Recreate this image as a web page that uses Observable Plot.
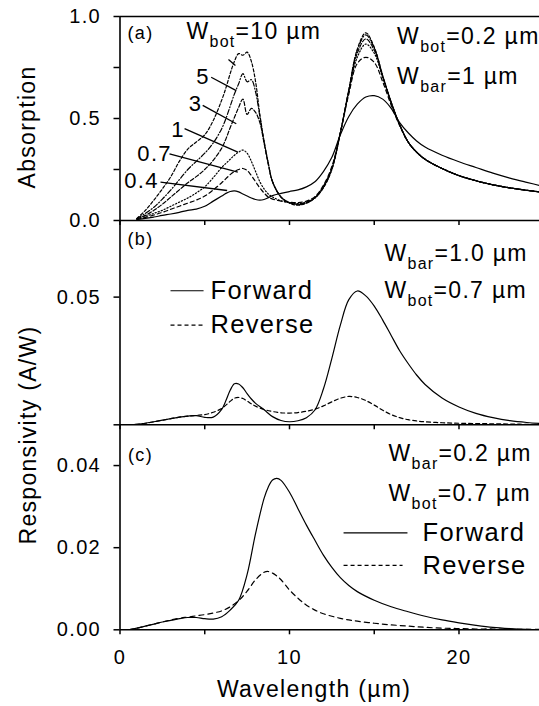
<!DOCTYPE html>
<html>
<head>
<meta charset="utf-8">
<script src="https://cdn.jsdelivr.net/npm/d3@7"></script>
<script src="https://cdn.jsdelivr.net/npm/@observablehq/plot@0.6"></script>
<style>
body { margin: 0; background: #fff; }
#chart { position: relative; width: 539px; height: 706px; overflow: hidden; background: #fff; }
</style>
</head>
<body>
<div id="chart"></div>
<script>
// ---------------- DATA ----------------
// Panel (a): absorption vs wavelength for several W_bot values
const wavelengthA = [1,1.5,2,2.5,3,3.5,4,4.5,5,5.5,6,6.25,6.5,6.75,7,7.25,7.5,7.75,8,8.25,8.5,8.75,9,9.5,10,10.5,11,11.5,12,12.5,13,13.5,14,14.5,15,15.5,16,16.5,17,17.5,18,19,20,21,22,23,24,25];
const absW10  = [0.01,0.05,0.10,0.155,0.215,0.29,0.35,0.385,0.42,0.49,0.59,0.65,0.72,0.78,0.818,0.81,0.825,0.78,0.68,0.52,0.39,0.28,0.19,0.115,0.085,0.075,0.085,0.11,0.16,0.25,0.43,0.64,0.84,0.92,0.85,0.71,0.58,0.47,0.385,0.335,0.30,0.255,0.22,0.195,0.175,0.16,0.148,0.138];
const absW5   = [0.01,0.035,0.065,0.105,0.15,0.20,0.25,0.29,0.33,0.38,0.45,0.50,0.56,0.62,0.67,0.72,0.68,0.69,0.63,0.51,0.385,0.28,0.19,0.115,0.087,0.078,0.087,0.11,0.162,0.252,0.43,0.64,0.835,0.91,0.845,0.71,0.58,0.47,0.385,0.335,0.30,0.255,0.22,0.195,0.175,0.16,0.148,0.138];
const absW3   = [0.008,0.025,0.05,0.08,0.115,0.15,0.185,0.215,0.25,0.295,0.355,0.40,0.455,0.505,0.555,0.595,0.52,0.55,0.53,0.48,0.38,0.275,0.19,0.115,0.088,0.08,0.088,0.112,0.165,0.255,0.43,0.635,0.82,0.89,0.835,0.705,0.578,0.47,0.385,0.335,0.30,0.255,0.22,0.195,0.175,0.16,0.148,0.138];
const absW1   = [0.007,0.02,0.035,0.05,0.07,0.09,0.11,0.135,0.165,0.21,0.26,0.28,0.30,0.32,0.335,0.345,0.33,0.29,0.24,0.19,0.155,0.13,0.115,0.097,0.088,0.083,0.09,0.113,0.168,0.258,0.43,0.63,0.80,0.865,0.82,0.70,0.575,0.468,0.385,0.335,0.30,0.255,0.22,0.195,0.175,0.16,0.148,0.138];
const absW07  = [0.006,0.015,0.027,0.04,0.055,0.07,0.085,0.10,0.12,0.15,0.185,0.205,0.225,0.24,0.25,0.255,0.245,0.22,0.19,0.16,0.135,0.115,0.105,0.095,0.09,0.088,0.095,0.117,0.172,0.265,0.43,0.62,0.77,0.80,0.775,0.68,0.565,0.465,0.385,0.335,0.30,0.255,0.22,0.195,0.175,0.16,0.148,0.138];
const absW04  = [0.005,0.01,0.017,0.025,0.032,0.04,0.05,0.056,0.07,0.095,0.12,0.133,0.142,0.145,0.14,0.13,0.12,0.11,0.103,0.10,0.103,0.112,0.122,0.133,0.142,0.15,0.165,0.19,0.24,0.31,0.42,0.51,0.57,0.605,0.612,0.595,0.55,0.48,0.43,0.39,0.36,0.32,0.288,0.26,0.232,0.208,0.187,0.167];

// Panel (b): responsivity, W_bar = 1.0 um
const wavelengthB = [0.5,1,1.5,2,2.5,3,3.5,4,4.5,5,5.5,6,6.25,6.5,6.75,7,7.25,7.5,7.75,8,8.5,9,9.5,10,10.5,11,11.5,12,12.5,13,13.5,14,14.5,15,15.5,16,16.5,17,17.5,18,19,20,21,22,23,24,25];
const forwardB = [0,0.0002,0.0006,0.0012,0.0018,0.0024,0.003,0.0034,0.0036,0.0029,0.003,0.006,0.0095,0.0135,0.0161,0.016,0.0145,0.0122,0.0101,0.0084,0.0059,0.0032,0.0017,0.0012,0.0016,0.0028,0.0058,0.014,0.026,0.039,0.049,0.0524,0.0505,0.0465,0.041,0.035,0.029,0.024,0.0195,0.0158,0.0105,0.007,0.0045,0.0028,0.0016,0.0009,0.0005];
const reverseB = [0,0.0002,0.0006,0.0012,0.0018,0.0024,0.003,0.0034,0.0037,0.004,0.0049,0.0064,0.0077,0.0092,0.0104,0.0107,0.0103,0.0093,0.0082,0.0073,0.006,0.0052,0.0047,0.0046,0.0048,0.0053,0.0061,0.0074,0.009,0.0104,0.0111,0.0107,0.0095,0.0077,0.0057,0.004,0.0028,0.002,0.0015,0.0012,0.0008,0.0006,0.0005,0.0004,0.0003,0.0002,0.0002];

// Panel (c): responsivity, W_bar = 0.2 um
const wavelengthC = [0.5,1,1.5,2,2.5,3,3.5,4,4.5,5,5.5,6,6.5,7,7.5,8,8.5,8.75,9,9.25,9.5,10,10.5,11,11.5,12,12.5,13,13.5,14,15,16,17,18,19,20,21,22,23,24,25];
const forwardC = [0,0.0004,0.0009,0.0014,0.0019,0.0023,0.0027,0.003,0.003,0.0027,0.0026,0.0032,0.0048,0.0072,0.0135,0.0235,0.032,0.0348,0.0365,0.0369,0.0364,0.0335,0.0295,0.0255,0.0218,0.0182,0.0152,0.0127,0.0108,0.0093,0.0072,0.0056,0.0044,0.0033,0.0024,0.0017,0.0011,0.0006,0.0003,0.0001,0];
const reverseC = [0,0.0004,0.0009,0.0014,0.0019,0.0024,0.0028,0.0031,0.0034,0.0037,0.0041,0.0046,0.0056,0.0071,0.0094,0.0122,0.014,0.0142,0.0138,0.0131,0.0122,0.0097,0.0077,0.006,0.0048,0.0039,0.0033,0.0028,0.0024,0.0021,0.0016,0.0012,0.0009,0.0006,0.0004,0.0003,0.0002,0.0002,0.0001,0.0001,0.0001];

// Axes
const xDomain = [0, 24.75];
const xTicks = [0, 5, 10, 15, 20];
const xTickLabels = [0, 10, 20];
const yDomainA = [0, 1], yTicksA = [0, 0.25, 0.5, 0.75, 1], yTickLabelsA = [0, 0.5, 1];
const yDomainB = [0, 0.08], yTicksB = [0, 0.05], yTickLabelsB = [0.05];
const yDomainC = [0, 0.05], yTicksC = [0, 0.02, 0.04], yTickLabelsC = [0, 0.02, 0.04];

// Texts
const xLabel = "Wavelength (µm)";
const yLabelA = "Absorption";
const yLabelBC = "Responsivity (A/W)";
const seriesNamesA = ["10", "5", "3", "1", "0.7", "0.4"];
const seriesLabelsA = ["5", "3", "1", "0.7", "0.4"];
const labelPosA = [[4.9, 0.706], [4.45, 0.571], [3.42, 0.446], [2.04, 0.324], [1.27, 0.196]];
const leadersA = [[6.40,0.789,6.81,0.760],[5.38,0.702,6.86,0.637],[4.88,0.564,6.86,0.474],[3.81,0.450,6.95,0.335],[2.92,0.327,6.95,0.237],[2.39,0.188,6.32,0.147]];
const notesA = [["(a)",1.21,0.917,"middle","middle"],["W_{bot}=10 µm",3.92,0.892,"start","bottom"],["W_{bot}=0.2 µm",16.35,0.863,"start","bottom"],["W_{bar}=1 µm",16.35,0.667,"start","bottom"]];
const notesB = [["(b)",1.21,0.0726,"middle","middle"],["W_{bar}=1.0 µm",15.6,0.064,"start","bottom"],["W_{bot}=0.7 µm",15.6,0.0495,"start","bottom"]];
const notesC = [["(c)",1.21,0.0425,"middle","middle"],["W_{bar}=0.2 µm",15.84,0.041,"start","bottom"],["W_{bot}=0.7 µm",15.84,0.0314,"start","bottom"]];
const legendNames = ["Forward", "Reverse"];
const legendB = [[2.98,4.93,0.0525,5.34],[2.98,4.93,0.039,5.34]];
const legendC = [[13.19,16.96,0.0236,17.85],[13.19,16.67,0.0157,17.85]];

// ---------------- STYLE ----------------
const FONT = '"Liberation Sans", Arial, Helvetica, sans-serif';
const dashA = {"10": "3,2", "5": "5,2,1,2", "3": "4,2", "1": "1.2,2", "0.7": "4,3", "0.4": null};
const dashRev = "4,3";

// ---------------- HELPERS ----------------
const rows = (xs, ys) => xs.map((x, i) => ({x, y: ys[i]}));
const noteRows = (notes) => notes.map(([text, x, y, anchor, line]) => ({text, x, y, anchor, line}));
const legendRows = (leg) => leg.map(([x1, x2, y, tx], i) => ({x1, x2, y, tx, name: legendNames[i]}));

function subscriptify(svg) {
  const ns = "http://www.w3.org/2000/svg";
  svg.querySelectorAll("text, tspan").forEach(el => {
    if (el.childElementCount) return;
    const m = (el.textContent || "").match(/^(.*?)_\{(.*?)\}(.*)$/);
    if (!m) return;
    el.textContent = "";
    const a = document.createElementNS(ns, "tspan"); a.textContent = m[1];
    const b = document.createElementNS(ns, "tspan"); b.textContent = m[2];
    b.setAttribute("dy", "8"); b.setAttribute("font-size", "16");
    const c = document.createElementNS(ns, "tspan"); c.textContent = m[3];
    c.setAttribute("dy", "-8");
    el.append(a, b, c);
  });
}

const baseStyle = {background: "transparent", overflow: "visible", fontFamily: FONT, letterSpacing: "1.3px", color: "black"};

function frameMarks(yDomain, withTop) {
  const m = [Plot.ruleY([yDomain[0]], {strokeWidth: 1.6}), Plot.ruleX([xDomain[0]], {strokeWidth: 1.6})];
  if (withTop) m.push(Plot.ruleY([yDomain[1]], {strokeWidth: 1.6}));
  return m;
}
function yAxis(ticks, labels, fmt) {
  return Plot.axisY({ticks, tickFormat: d => labels.includes(d) ? d3.format(fmt)(d) : "", tickSize: 6, tickPadding: 13, fontSize: 20, strokeWidth: 1.5, label: null});
}
function xAxis(withLabels) {
  return Plot.axisX({ticks: xTicks, tickFormat: d => withLabels && xTickLabels.includes(d) ? String(d) : "", tickSize: 5, tickPadding: 14.5, fontSize: 20, strokeWidth: 1.5, label: null});
}
function noteMarks(notes) {
  const r = noteRows(notes);
  return [
    Plot.text(r.filter(d => d.anchor === "middle"), {x: "x", y: "y", text: "text", fontSize: 18, textAnchor: "middle", lineAnchor: "middle"}),
    Plot.text(r.filter(d => d.anchor === "start"), {x: "x", y: "y", text: "text", fontSize: 23, textAnchor: "start", lineAnchor: "bottom"})
  ];
}
function legendMarks(leg) {
  const r = legendRows(leg);
  return [
    Plot.link([r[0]], {x1: "x1", x2: "x2", y1: "y", y2: "y", strokeWidth: 1.2}),
    Plot.link([r[1]], {x1: "x1", x2: "x2", y1: "y", y2: "y", strokeWidth: 1.2, strokeDasharray: dashRev}),
    Plot.text(r, {x: "tx", y: "y", text: "name", fontSize: 25.5, textAnchor: "start", lineAnchor: "middle"})
  ];
}

const chart = document.getElementById("chart");
function place(svg, top) {
  svg.style.position = "absolute";
  svg.style.left = "0px";
  svg.style.top = top + "px";
  subscriptify(svg);
  chart.appendChild(svg);
}

// ---------------- PANEL (a) ----------------
const seriesA = [absW10, absW5, absW3, absW1, absW07, absW04];
const panelA = Plot.plot({
  width: 539, height: 230, marginLeft: 119.5, marginRight: 0, marginTop: 16, marginBottom: 10,
  style: baseStyle,
  x: {domain: xDomain, label: null},
  y: {domain: yDomainA, label: null},
  marks: [
    ...seriesA.map((vals, i) => Plot.line(rows(wavelengthA, vals), {x: "x", y: "y", curve: "catmull-rom", strokeWidth: 1.2, strokeDasharray: dashA[seriesNamesA[i]], clip: true})),
    Plot.link(leadersA, {x1: d => d[0], y1: d => d[1], x2: d => d[2], y2: d => d[3], strokeWidth: 1.3}),
    Plot.text(seriesLabelsA, {x: (d, i) => labelPosA[i][0], y: (d, i) => labelPosA[i][1], text: d => d, fontSize: 22, textAnchor: "middle", lineAnchor: "middle"}),
    ...noteMarks(notesA),
    Plot.text([yLabelA], {frameAnchor: "left", dx: -92.5, dy: 8.5, rotate: -90, fontSize: 23, textAnchor: "middle", lineAnchor: "middle"}),
    yAxis(yTicksA, yTickLabelsA, ".1f"),
    xAxis(false),
    ...frameMarks(yDomainA, true)
  ]
});
place(panelA, 0);

// ---------------- PANEL (b) ----------------
const panelB = Plot.plot({
  width: 539, height: 225, marginLeft: 119.5, marginRight: 0, marginTop: 10, marginBottom: 10.7,
  style: baseStyle,
  x: {domain: xDomain, label: null},
  y: {domain: yDomainB, label: null},
  marks: [
    Plot.line(rows(wavelengthB, forwardB), {x: "x", y: "y", curve: "catmull-rom", strokeWidth: 1.2, clip: true}),
    Plot.line(rows(wavelengthB, reverseB), {x: "x", y: "y", curve: "catmull-rom", strokeWidth: 1.2, strokeDasharray: dashRev, clip: true}),
    ...legendMarks(legendB),
    ...noteMarks(notesB),
    yAxis(yTicksB, yTickLabelsB, ".2f"),
    xAxis(false),
    ...frameMarks(yDomainB, false)
  ]
});
place(panelB, 210);

// ---------------- PANEL (c) ----------------
const panelC = Plot.plot({
  width: 539, height: 292, marginLeft: 119.5, marginRight: 0, marginTop: 10, marginBottom: 76.7,
  style: baseStyle,
  x: {domain: xDomain, label: null},
  y: {domain: yDomainC, label: null},
  marks: [
    Plot.line(rows(wavelengthC, forwardC), {x: "x", y: "y", curve: "catmull-rom", strokeWidth: 1.2, clip: true}),
    Plot.line(rows(wavelengthC, reverseC), {x: "x", y: "y", curve: "catmull-rom", strokeWidth: 1.2, strokeDasharray: "5,4", clip: true}),
    ...legendMarks(legendC),
    ...noteMarks(notesC),
    Plot.text([yLabelBC], {frameAnchor: "top-left", dx: -91.5, dy: 10.5, rotate: -90, fontSize: 23, textAnchor: "middle", lineAnchor: "middle"}),
    Plot.text([xLabel], {frameAnchor: "bottom", dx: -15.75, dy: 66.7, fontSize: 23, textAnchor: "middle", lineAnchor: "bottom"}),
    yAxis(yTicksC, yTickLabelsC, ".2f"),
    xAxis(true),
    ...frameMarks(yDomainC, false)
  ]
});
place(panelC, 414);
</script>
</body>
</html>
